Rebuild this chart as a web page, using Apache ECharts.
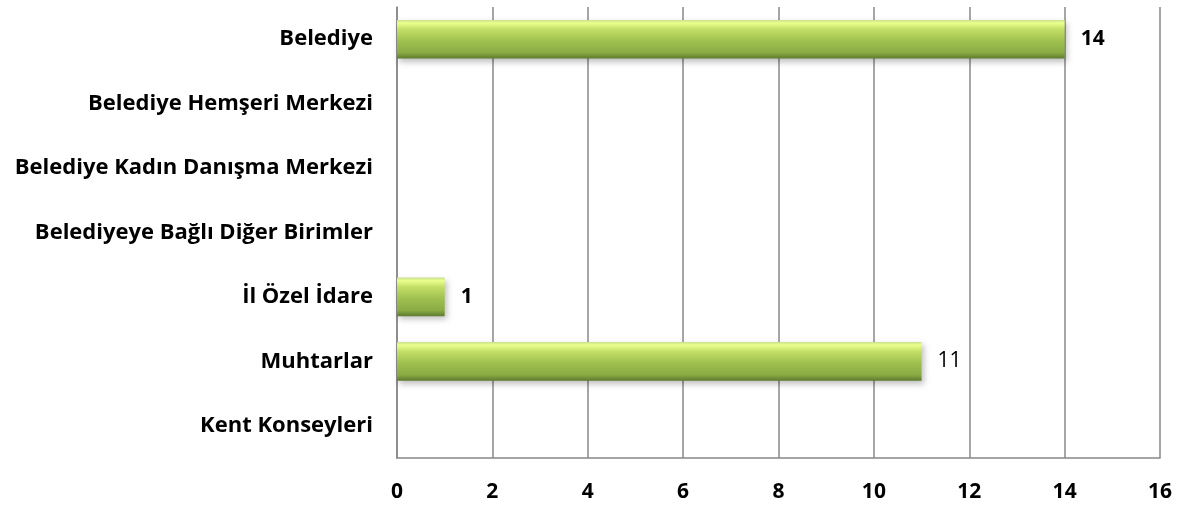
<!DOCTYPE html>
<html><head><meta charset="utf-8">
<script src="https://cdn.jsdelivr.net/npm/echarts@6/dist/echarts.min.js"></script>
<style>html,body{margin:0;padding:0;background:#fff}#c{width:1184px;height:521px}</style>
</head><body><div id="c"></div>
<script>
var categories = ["Belediye","Belediye Hemşeri Merkezi","Belediye Kadın Danışma Merkezi","Belediyeye Bağlı Diğer Birimler","İl Özel İdare","Muhtarlar","Kent Konseyleri"];
var values = [14, 0, 0, 0, 1, 11, 0];
var labelBold = [true, false, false, false, true, false, false];
var xTicks = {min: 0, max: 16, interval: 2};

var FONT = "'Open Sans','Noto Sans',sans-serif";
var grad = new echarts.graphic.LinearGradient(0,0,0,1,[
  {offset:0, color:'#c9df8c'},
  {offset:0.08, color:'#eaff8e'},
  {offset:0.25, color:'#c2de66'},
  {offset:0.55, color:'#9fc04f'},
  {offset:0.85, color:'#8aab44'},
  {offset:1, color:'#5e7a2e'}
]);
var data = values.map(function(v,i){
  if (v === 0) return {value: v, itemStyle:{opacity:0}, label:{show:false}};
  return {value: v, label:{fontWeight: labelBold[i] ? 'bold' : 'normal'}};
});
var chart = echarts.init(document.getElementById('c'), null, {renderer:'canvas'});
chart.setOption({
  animation:false,
  grid:{left:397, right:24, top:7, bottom:63, containLabel:false},
  xAxis:{type:'value', min:xTicks.min, max:xTicks.max, interval:xTicks.interval,
    axisLine:{show:true, lineStyle:{color:'#888', width:1.5}},
    axisTick:{show:false},
    splitLine:{show:true, lineStyle:{color:'#888', width:1.5}},
    axisLabel:{margin:24, color:'#000', fontFamily:FONT, fontWeight:'bold', fontSize:21}
  },
  yAxis:{type:'category', inverse:true, data:categories,
    axisLine:{show:true, lineStyle:{color:'#888', width:1.5}},
    axisTick:{show:false},
    axisLabel:{margin:24, color:'#000', fontFamily:FONT, fontWeight:'bold', fontSize:22}
  },
  series:[{type:'bar', data:data, barCategoryGap:'40%',
    itemStyle:{color:grad, shadowColor:'rgba(0,0,0,0.25)', shadowBlur:6, shadowOffsetY:3, shadowOffsetX:2},
    label:{show:true, position:'right', distance:16, color:'#000', fontFamily:FONT, fontSize:21}
  }]
});
</script></body></html>
